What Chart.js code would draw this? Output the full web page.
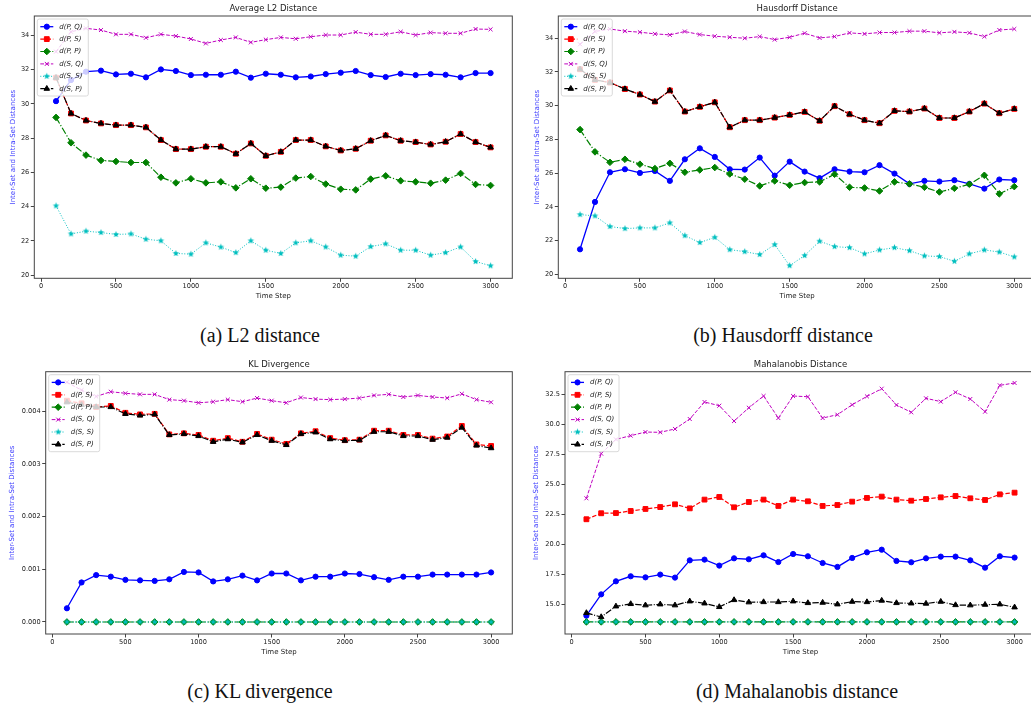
<!DOCTYPE html>
<html lang="en">
<head>
<meta charset="UTF-8">
<title>Inter-Set and Intra-Set Distances</title>
<style>
  html, body { margin: 0; padding: 0; background: #fff; }
  body { width: 1031px; height: 706px; position: relative; overflow: hidden; }
  canvas { position: absolute; }
  .cap { position: absolute; font-family: "Liberation Serif", "DejaVu Serif", serif; font-size: 20px; line-height: 20px; color: #111; transform: translateX(-50%); white-space: nowrap; }
</style>
</head>
<body>
<canvas id="chA" width="520" height="312" style="left:0;top:0"></canvas>
<canvas id="chB" width="530" height="312" style="left:520px;top:0"></canvas>
<canvas id="chC" width="520" height="312" style="left:0;top:356px"></canvas>
<canvas id="chD" width="530" height="312" style="left:520px;top:356px"></canvas>
<div class="cap" style="left:260px;top:325px">(a) L2 distance</div>
<div class="cap" style="left:783px;top:325px">(b) Hausdorff distance</div>
<div class="cap" style="left:260px;top:681px">(c) KL divergence</div>
<div class="cap" style="left:797px;top:681px">(d) Mahalanobis distance</div>

<script src="https://cdn.jsdelivr.net/npm/chart.js"></script>
<script>
// time steps and labels
const steps = [100, 200, 300, 400, 500, 600, 700, 800, 900, 1000, 1100, 1200, 1300, 1400, 1500,
  1600, 1700, 1800, 1900, 2000, 2100, 2200, 2300, 2400, 2500, 2600, 2700, 2800, 2900, 3000];
const xTicks = [0, 500, 1000, 1500, 2000, 2500, 3000];
const seriesNames = ['d(P, Q)', 'd(P, S)', 'd(P, P)', 'd(S, Q)', 'd(S, S)', 'd(S, P)'];

// (a) average L2
const l2Ticks = [20, 22, 24, 26, 28, 30, 32, 34];
const l2PQ = [30.16, 31.39, 31.88, 31.94, 31.72, 31.76, 31.55, 32.01, 31.92, 31.68, 31.70, 31.70, 31.88, 31.53, 31.76,
  31.70, 31.55, 31.60, 31.74, 31.82, 31.92, 31.68, 31.57, 31.76, 31.68, 31.74, 31.70, 31.55, 31.80, 31.80];
const l2PS = [31.53, 29.44, 29.03, 28.86, 28.76, 28.76, 28.63, 27.89, 27.36, 27.36, 27.50, 27.50, 27.09, 27.69, 26.97,
  27.20, 27.89, 27.89, 27.52, 27.28, 27.38, 27.85, 28.16, 27.85, 27.77, 27.63, 27.79, 28.24, 27.77, 27.46];
const l2PP = [29.21, 27.73, 27.01, 26.70, 26.64, 26.58, 26.58, 25.72, 25.39, 25.63, 25.39, 25.45, 25.10, 25.63, 25.08,
  25.14, 25.67, 25.76, 25.32, 25.02, 24.98, 25.61, 25.80, 25.51, 25.45, 25.37, 25.55, 25.94, 25.30, 25.24];
const l2SQ = [33.05, 34.21, 34.41, 34.31, 34.06, 34.06, 33.86, 34.06, 33.96, 33.79, 33.53, 33.73, 33.88, 33.59, 33.75,
  33.88, 33.80, 33.92, 34.02, 34.02, 34.19, 34.06, 34.06, 34.21, 34.02, 34.16, 34.12, 34.12, 34.37, 34.35];
const l2SS = [24.05, 22.41, 22.57, 22.49, 22.38, 22.41, 22.10, 22.01, 21.27, 21.23, 21.89, 21.64, 21.32, 22.01, 21.46,
  21.27, 21.89, 22.01, 21.65, 21.17, 21.11, 21.67, 21.83, 21.46, 21.46, 21.17, 21.32, 21.65, 20.80, 20.55];
const l2SP = [31.53, 29.44, 29.03, 28.86, 28.76, 28.76, 28.63, 27.89, 27.36, 27.36, 27.50, 27.50, 27.09, 27.69, 26.97,
  27.20, 27.89, 27.89, 27.52, 27.28, 27.38, 27.85, 28.16, 27.85, 27.77, 27.63, 27.79, 28.24, 27.77, 27.46];

// (b) Hausdorff
const hdTicks = [20, 22, 24, 26, 28, 30, 32, 34];
const hdPQ = [21.48, 24.29, 26.05, 26.23, 26.01, 26.13, 25.54, 26.82, 27.47, 26.96, 26.23, 26.21, 26.92, 25.85, 26.68,
  26.09, 25.70, 26.23, 26.09, 26.05, 26.47, 25.97, 25.36, 25.54, 25.50, 25.58, 25.36, 25.08, 25.62, 25.58];
const hdPS = [32.16, 31.53, 31.37, 30.99, 30.66, 30.24, 30.90, 29.65, 29.93, 30.20, 28.72, 29.14, 29.14, 29.29, 29.45,
  29.63, 29.10, 29.97, 29.49, 29.14, 28.96, 29.69, 29.65, 29.83, 29.27, 29.27, 29.65, 30.12, 29.55, 29.81];
const hdPP = [28.58, 27.26, 26.64, 26.82, 26.53, 26.27, 26.58, 26.05, 26.19, 26.33, 25.95, 25.64, 25.24, 25.54, 25.28,
  25.44, 25.48, 25.93, 25.16, 25.12, 24.94, 25.48, 25.36, 25.16, 24.88, 25.10, 25.34, 25.87, 24.77, 25.20];
const hdSQ = [33.64, 34.40, 34.55, 34.42, 34.36, 34.26, 34.20, 34.40, 34.22, 34.12, 34.06, 34.00, 34.10, 33.92, 34.06,
  34.30, 34.02, 34.10, 34.32, 34.26, 34.34, 34.34, 34.42, 34.42, 34.32, 34.38, 34.32, 34.10, 34.49, 34.55];
const hdSS = [23.54, 23.46, 22.83, 22.71, 22.75, 22.75, 23.05, 22.29, 21.88, 22.19, 21.46, 21.34, 21.17, 21.76, 20.51,
  21.11, 21.96, 21.64, 21.58, 21.21, 21.44, 21.58, 21.40, 21.09, 21.05, 20.77, 21.21, 21.44, 21.32, 21.03];
const hdSP = [32.16, 31.53, 31.37, 30.99, 30.66, 30.24, 30.90, 29.65, 29.93, 30.20, 28.72, 29.14, 29.14, 29.29, 29.45,
  29.63, 29.10, 29.97, 29.49, 29.14, 28.96, 29.69, 29.65, 29.83, 29.27, 29.27, 29.65, 30.12, 29.55, 29.81];

// (c) KL divergence
const klTicks = [0, 0.001, 0.002, 0.003, 0.004];
const klPQ = [0.00026, 0.00075, 0.00089, 0.00086, 0.00080, 0.00079, 0.00078, 0.00081, 0.00095, 0.00094, 0.00077, 0.00081,
  0.00088, 0.00079, 0.00092, 0.00092, 0.00079, 0.00086, 0.00086, 0.00092, 0.00091, 0.00085, 0.00080, 0.00086, 0.00086,
  0.00090, 0.00090, 0.00090, 0.00090, 0.00094];
const klPS = [0.00420, 0.00415, 0.00408, 0.00410, 0.00397, 0.00394, 0.00395, 0.00356, 0.00358, 0.00355, 0.00344, 0.00349,
  0.00342, 0.00357, 0.00346, 0.00338, 0.00358, 0.00362, 0.00349, 0.00345, 0.00346, 0.00363, 0.00363, 0.00355, 0.00355,
  0.00348, 0.00352, 0.00372, 0.00337, 0.00334];
const klPP = [0, 0, 0, 0, 0, 0, 0, 0, 0, 0, 0, 0, 0, 0, 0, 0, 0, 0, 0, 0, 0, 0, 0, 0, 0, 0, 0, 0, 0, 0];
const klSQ = [0.00455, 0.00440, 0.00428, 0.00437, 0.00434, 0.00432, 0.00432, 0.00422, 0.00420, 0.00416, 0.00418, 0.00422,
  0.00418, 0.00425, 0.00420, 0.00416, 0.00426, 0.00423, 0.00422, 0.00423, 0.00425, 0.00430, 0.00432, 0.00427, 0.00430,
  0.00427, 0.00425, 0.00433, 0.00422, 0.00417];
const klSS = [0, 0, 0, 0, 0, 0, 0, 0, 0, 0, 0, 0, 0, 0, 0, 0, 0, 0, 0, 0, 0, 0, 0, 0, 0, 0, 0, 0, 0, 0];
const klSP = [0.00417, 0.00412, 0.00408, 0.00408, 0.00395, 0.00392, 0.00394, 0.00355, 0.00357, 0.00353, 0.00342, 0.00347,
  0.00341, 0.00355, 0.00344, 0.00336, 0.00357, 0.00360, 0.00347, 0.00344, 0.00345, 0.00361, 0.00361, 0.00353, 0.00353,
  0.00346, 0.00350, 0.00369, 0.00335, 0.00330];

// (d) Mahalanobis
const mhTicks = [15, 17.5, 20, 22.5, 25, 27.5, 30, 32.5];
const mhPQ = [14.05, 15.83, 16.92, 17.34, 17.25, 17.48, 17.23, 18.67, 18.73, 18.23, 18.84, 18.76, 19.09, 18.53, 19.20,
  19.01, 18.45, 18.12, 18.87, 19.34, 19.56, 18.62, 18.51, 18.84, 18.98, 18.98, 18.67, 18.06, 19.01, 18.90];
const mhPS = [22.10, 22.60, 22.62, 22.79, 22.96, 23.12, 23.35, 23.01, 23.74, 23.96, 23.10, 23.54, 23.74, 23.21, 23.74,
  23.60, 23.21, 23.29, 23.57, 23.88, 23.99, 23.74, 23.65, 23.79, 23.93, 24.04, 23.85, 23.71, 24.18, 24.32];
const mhPP = [13.53, 13.53, 13.53, 13.53, 13.53, 13.53, 13.53, 13.53, 13.53, 13.53, 13.53, 13.53, 13.53, 13.53, 13.53,
  13.53, 13.53, 13.53, 13.53, 13.53, 13.53, 13.53, 13.53, 13.53, 13.53, 13.53, 13.53, 13.53, 13.53, 13.53];
const mhSQ = [23.85, 27.58, 28.77, 29.08, 29.38, 29.36, 29.64, 30.47, 31.89, 31.58, 30.30, 31.41, 32.39, 30.55, 32.39,
  32.33, 30.55, 30.83, 31.66, 32.36, 33.00, 31.64, 31.03, 32.20, 31.92, 32.70, 32.14, 31.08, 33.28, 33.48];
const mhSS = [13.53, 13.53, 13.53, 13.53, 13.53, 13.53, 13.53, 13.53, 13.53, 13.53, 13.53, 13.53, 13.53, 13.53, 13.53,
  13.53, 13.53, 13.53, 13.53, 13.53, 13.53, 13.53, 13.53, 13.53, 13.53, 13.53, 13.53, 13.53, 13.53, 13.53];
const mhSP = [14.28, 13.94, 14.83, 15.03, 14.92, 15.00, 14.92, 15.25, 15.08, 14.78, 15.36, 15.17, 15.19, 15.19, 15.25,
  15.11, 15.14, 15.00, 15.22, 15.19, 15.31, 15.11, 15.08, 15.06, 15.22, 14.94, 14.92, 14.97, 15.00, 14.75];

const FONT = '"DejaVu Sans", Verdana, sans-serif';

// filled five point star like matplotlib '*'
function starImage(color, r) {
  const c = document.createElement('canvas');
  const s = Math.ceil(r * 2) + 2;
  c.width = c.height = s;
  const g = c.getContext('2d');
  g.fillStyle = color;
  g.beginPath();
  for (let k = 0; k < 10; k++) {
    const rr = k % 2 ? r * 0.45 : r;
    const ang = -Math.PI / 2 + k * Math.PI / 5;
    g.lineTo(s / 2 + rr * Math.cos(ang), s / 2 + rr * Math.sin(ang));
  }
  g.closePath();
  g.fill();
  return c;
}

const styles = [
  { color: '#0000ff', width: 1.3, dash: [], marker: 'circle', r: 2.6 },
  { color: '#ff0000', width: 1.2, dash: [4.4, 1.9], marker: 'rect', r: 3.4 },
  { color: '#008000', width: 1.2, dash: [7, 1.9, 1.2, 1.9], marker: 'rectRot', r: 3.3 },
  { color: '#bf00bf', width: 1, dash: [3.7, 1.6], marker: 'crossRot', r: 2.8 },
  { color: '#00bfbf', width: 1, dash: [1, 1.7], marker: starImage('#00bfbf', 3.4), r: 3 },
  { color: '#000000', width: 1.2, dash: [6.4, 1.6, 1, 1.6], marker: 'triangle', r: 3.2 }
];

// box, title and legend drawn like matplotlib
const framePlugin = {
  id: 'frame',
  afterDatasetsDraw(chart, args, opts) {
    const { ctx, chartArea: a } = chart;
    ctx.save();
    ctx.setLineDash([]);
    ctx.strokeStyle = '#444';
    ctx.lineWidth = 1;
    ctx.strokeRect(a.left, a.top, a.right - a.left, a.bottom - a.top);

    ctx.fillStyle = '#222';
    ctx.font = '8.5px ' + FONT;
    ctx.textAlign = 'center';
    ctx.textBaseline = 'middle';
    ctx.fillText(opts.title, (a.left + a.right) / 2, a.top - 7.3);

    // legend
    const bx = a.left + 3, by = a.top + 3, bw = 51, bh = 77;
    ctx.beginPath();
    if (ctx.roundRect) ctx.roundRect(bx, by, bw, bh, 2); else ctx.rect(bx, by, bw, bh);
    ctx.fillStyle = 'rgba(255,255,255,0.8)';
    ctx.fill();
    ctx.strokeStyle = '#d0d0d0';
    ctx.lineWidth = 0.8;
    ctx.stroke();

    chart.data.datasets.forEach((ds, i) => {
      const cy = by + 7.7 + i * 12.4;
      ctx.setLineDash(ds.borderDash);
      ctx.strokeStyle = ds.borderColor;
      ctx.lineWidth = ds.borderWidth;
      ctx.beginPath();
      ctx.moveTo(bx + 3, cy);
      ctx.lineTo(bx + 16, cy);
      ctx.stroke();
      ctx.setLineDash([]);
      ctx.fillStyle = ds.pointBackgroundColor;
      ctx.strokeStyle = ds.pointBorderColor;
      ctx.lineWidth = ds.pointBorderWidth;
      if (Chart.helpers && Chart.helpers.drawPoint) {
        Chart.helpers.drawPoint(ctx, { pointStyle: ds.pointStyle, radius: ds.pointRadius, rotation: 0, borderWidth: ds.pointBorderWidth }, bx + 9.5, cy);
      }
      ctx.fillStyle = '#222';
      ctx.font = 'italic 7px ' + FONT;
      ctx.textAlign = 'left';
      ctx.textBaseline = 'middle';
      ctx.fillText(ds.label, bx + 22, cy);
    });
    ctx.restore();
  }
};

function makePanel(id, title, sets, yTicks, yDec, yMin, yMax, box) {
  const datasets = sets.map((vals, i) => ({
    label: seriesNames[i],
    data: steps.map((x, j) => ({ x: x, y: vals[j] })),
    borderColor: styles[i].color,
    backgroundColor: styles[i].color,
    borderWidth: styles[i].width,
    borderDash: styles[i].dash,
    pointStyle: styles[i].marker,
    pointRadius: styles[i].r,
    pointBorderWidth: 1,
    pointBorderColor: styles[i].color,
    pointBackgroundColor: styles[i].color,
    tension: 0,
    fill: false,
    order: 5 - i
  }));

  return new Chart(document.getElementById(id), {
    type: 'line',
    data: { datasets: datasets },
    plugins: [framePlugin],
    options: {
      responsive: false,
      animation: false,
      events: [],
      layout: { padding: { left: 0, top: box.padT, right: box.padR, bottom: 0 } },
      plugins: {
        legend: { display: false },
        tooltip: { enabled: false },
        frame: { title: title }
      },
      scales: {
        x: {
          type: 'linear',
          min: -45,
          max: 3145,
          afterBuildTicks: s => { s.ticks = xTicks.map(v => ({ value: v })); },
          afterFit: s => { s.height = box.xh; },
          ticks: { autoSkip: false, maxRotation: 0, padding: 1, color: '#222', font: { family: FONT, size: 6.6 }, callback: v => String(v) },
          grid: { drawOnChartArea: false, drawTicks: true, tickLength: 3.5, color: '#444' },
          border: { display: false },
          title: { display: true, text: 'Time Step', color: '#222', font: { family: FONT, size: 7 }, padding: { top: 0, bottom: 11.8 } }
        },
        y: {
          min: yMin,
          max: yMax,
          afterBuildTicks: s => { s.ticks = yTicks.map(v => ({ value: v })); },
          afterFit: s => { s.width = box.yw; },
          ticks: { autoSkip: false, padding: 1.5, color: '#222', font: { family: FONT, size: 6.6 }, callback: v => v.toFixed(yDec) },
          grid: { drawOnChartArea: false, drawTicks: true, tickLength: 3.5, color: '#444' },
          border: { display: false },
          title: { display: true, text: 'Inter-Set and Intra-Set Distances', color: '#3a3aff', font: { family: FONT, size: 7 }, padding: { top: box.ytp, bottom: 0 } }
        }
      }
    }
  });
}

makePanel('chA', 'Average L2 Distance', [l2PQ, l2PS, l2PP, l2SQ, l2SS, l2SP], l2Ticks, 0, 19.82, 35.13,
  { yw: 34.3, padT: 16, padR: 7.7, xh: 33.7, ytp: 8.8 });
makePanel('chB', 'Hausdorff Distance', [hdPQ, hdPS, hdPP, hdSQ, hdSS, hdSP], hdTicks, 0, 19.76, 35.32,
  { yw: 38.3, padT: 16, padR: 14, xh: 33.7, ytp: 12.5 });
makePanel('chC', 'KL Divergence', [klPQ, klPS, klPP, klSQ, klSS, klSP], klTicks, 3, -0.000228, 0.00475,
  { yw: 45.7, padT: 15.7, padR: 7.7, xh: 34, ytp: 8.1 });
makePanel('chD', 'Mahalanobis Distance', [mhPQ, mhPS, mhPP, mhSQ, mhSS, mhSP], mhTicks, 1, 12.52, 34.42,
  { yw: 45, padT: 15.7, padR: 14, xh: 34, ytp: 11.8 });
</script>
</body>
</html>
